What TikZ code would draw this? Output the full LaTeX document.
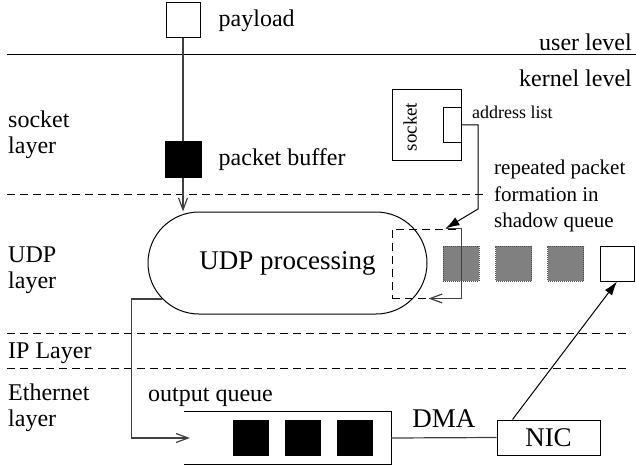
\documentclass[tikz,border=0pt]{standalone}
\usepackage{fontspec}
\setmainfont{Liberation Serif}
\usetikzlibrary{positioning,calc,shapes.misc,arrows.meta}

\begin{document}
\begin{tikzpicture}[x=1pt, y=-1pt,
    box/.style={draw, line width=1pt, inner sep=0pt},
    pkt/.style={box, fill=black, minimum width=35pt, minimum height=35pt},
    shadowpkt/.style={draw=black!70, densely dotted, fill=black!50, line width=1pt,
        minimum width=36pt, minimum height=35pt, inner sep=0pt},
    lbl/.style={inner sep=0pt, font=\fontsize{24}{26}\selectfont, align=left},
    big/.style={inner sep=0pt, font=\fontsize{27}{30}\selectfont},
    small/.style={inner sep=0pt, font=\fontsize{18}{20}\selectfont},
    layerline/.style={dash pattern=on 8pt off 5pt, line width=1pt},
    conn/.style={line width=1.2pt, black!75},
    openarr/.style={conn, -{Straight Barb[length=12pt, width=9pt]}},
    fillarr/.style={line width=1pt, -{Latex[length=14pt, width=9pt]}}
]
    \useasboundingbox (0,0) rectangle (636,465);

    % user / kernel boundary
    \draw[line width=1pt] (7,55) -- (636,55);
    \node[lbl, anchor=east] (user) at (632,42) {user level};
    \node[lbl, anchor=east] (kernel) at (632,78) {kernel level};

    % layer boundaries
    \draw[layerline] (7,194) -- (487,194);
    \draw[layerline] (7,333) -- (628,333);
    \draw[layerline] (7,368) -- (628,368);

    % layer names
    \node[lbl, anchor=west] (socketlayer) at (8,135) {socket\\layer};
    \node[lbl, anchor=west] (udplayer) at (8,270) {UDP\\layer};
    \node[lbl, anchor=west] (iplayer) at (8,353) {IP Layer};
    \node[lbl, anchor=west] (ethlayer) at (8,408) {Ethernet\\layer};

    % payload and packet buffer
    \node[box, minimum width=34pt, minimum height=35pt] (payload) at (183,20.5) {};
    \node[lbl, right=18pt of payload] (payloadlbl) {payload};
    \node[pkt, minimum width=36pt] (buf) at (183,159.5) {};
    \node[lbl, right=17pt of buf] (buflbl) {packet buffer};

    % socket with address list
    \node[box, minimum width=69pt, minimum height=70pt] (socket) at (426.5,125) {};
    \node[small, font=\fontsize{19}{20}\selectfont, rotate=90] (socketlbl) at (410,127) {socket};
    \node[box, fill=white, minimum width=18pt, minimum height=35pt, anchor=east] (addr) at (socket.east) {};
    \node[small, anchor=west] (addrlbl) at (472,112) {address list};

    % UDP processing
    \node[box, big, rounded rectangle, minimum width=279pt, minimum height=102pt] (udp) at (287.5,263) {UDP processing};
    \node[draw, layerline, minimum width=69pt, minimum height=69pt, inner sep=0pt] (shadow) at (426.5,263.5) {};
    \node[inner sep=0pt, font=\fontsize{21}{26.5}\selectfont, align=left, anchor=west] (shadowlbl) at (494,196)
        {repeated packet\\formation in\\shadow queue};

    % shadow queue packets
    \foreach \i/\x in {1/461,2/513.5,3/565.5}
        \node[shadowpkt] (s\i) at (\x,263.5) {};
    \node[box, minimum width=34pt, minimum height=35pt] (nicpkt) at (617,263.5) {};

    % output queue
    \node[minimum width=207pt, minimum height=52pt, inner sep=0pt] (queue) at (287.5,438) {};
    \draw[box] (queue.north west) -- (queue.north east) -- (queue.south east) -- (queue.south west);
    \foreach \i/\x in {1/251,2/302.5,3/354.5}
        \node[pkt] (q\i) at (\x,437.5) {};
    \node[lbl, anchor=west] (queuelbl) at (148,397) {output queue};

    % NIC
    \node[box, big, minimum width=103pt, minimum height=35pt] (nic) at (548.5,437.5) {NIC};
    \node[big, anchor=base] (dma) at ($(queue.east)!0.5!(nic.west)+(0,-10)$) {DMA};

    % connectors
    \coordinate (bend) at (478,209);
    \coordinate (hit) at ($(shadow.north east)+(-16,0)$);
    \draw[conn] (payload.south) -- (buf.north);
    \draw[openarr] (buf.south) -- (buf.south |- udp.north);
    \draw[fillarr] (addr.east) -| (bend) -- (hit);
    \draw[openarr] (hit) -- (shadow.north east) -- (shadow.south east) -- ++(-33,0);
    \draw[openarr] (udp.196) -- ++(-31,0) |- ($(queue.west)+(6,0)$);
    \draw[conn] (queue.east) -- (nic.west);
    \draw[fillarr] ($(nic.north west)+(16,0)$) -- (nicpkt.south);
\end{tikzpicture}
\end{document}
